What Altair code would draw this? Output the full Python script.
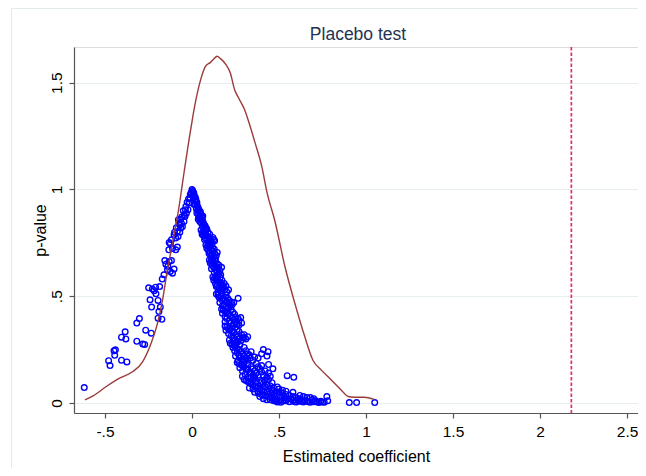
import altair as alt
import pandas as pd

# ---- data ----
# placebo estimates (coefficient, p-value)
coef = [
    -0.619, -0.479, -0.471, -0.448, -0.440, -0.444, -0.405, -0.374, -0.405, -0.384,
    -0.380, -0.317, -0.302, -0.317, -0.283, -0.272, -0.266, -0.234, -0.249, -0.228,
    -0.209, -0.186, -0.241, -0.232, -0.195, -0.207, -0.217, -0.195, -0.173, -0.190,
    -0.182, -0.171, -0.161, -0.141, -0.125, -0.112, -0.103, -0.156, -0.150, -0.139,
    -0.131, -0.118, -0.133, -0.124, -0.112, -0.093, -0.084, -0.131, -0.118, -0.103,
    -0.093, -0.084, -0.078, -0.070, -0.064, -0.055, -0.046, -0.040, -0.032, -0.023,
    -0.017, -0.011, -0.006, -0.060, -0.050, -0.035, -0.028, -0.020, -0.010, -0.075,
    -0.090, -0.100, -0.065, -0.045, -0.038, -0.080, -0.070, -0.060,
    0.000, 0.005, 0.010, 0.012, 0.018, 0.008, 0.022, 0.015, 0.028, 0.003,
    0.020, 0.030, 0.035, 0.025, 0.040, 0.045, 0.032, 0.050, 0.038, 0.055,
    0.040, 0.050, 0.060, 0.045, 0.065, 0.070, 0.055, 0.075, 0.060, 0.080, 0.085,
    0.060, 0.070, 0.080, 0.065, 0.090, 0.075, 0.100, 0.085, 0.110, 0.095, 0.120, 0.125, 0.130,
    0.080, 0.090, 0.100, 0.085, 0.110, 0.095, 0.120, 0.105, 0.130, 0.115, 0.140, 0.125, 0.135,
    0.100, 0.110, 0.120, 0.105, 0.130, 0.115, 0.140, 0.125, 0.150, 0.135, 0.160, 0.145, 0.155, 0.165,
    0.120, 0.130, 0.140, 0.125, 0.150, 0.160, 0.135, 0.170, 0.145, 0.180, 0.155, 0.175, 0.190, 0.165, 0.200,
    0.140, 0.150, 0.165, 0.155, 0.180, 0.170, 0.190, 0.200, 0.160, 0.210, 0.185, 0.220, 0.195, 0.230, 0.265,
    0.170, 0.180, 0.190, 0.200, 0.175, 0.210, 0.220, 0.190, 0.230, 0.200, 0.240, 0.215, 0.250, 0.225, 0.260, 0.270, 0.280,
    0.190, 0.200, 0.210, 0.220, 0.195, 0.230, 0.240, 0.210, 0.250, 0.225, 0.260, 0.240, 0.270, 0.250, 0.280, 0.290, 0.300, 0.310,
    0.220, 0.230, 0.240, 0.250, 0.235, 0.260, 0.270, 0.245, 0.280, 0.260, 0.290, 0.270, 0.300, 0.280, 0.310, 0.290, 0.320,
    0.330, 0.340, 0.360, 0.380, 0.400, 0.410, 0.437, 0.431,
    0.260, 0.270, 0.280, 0.290, 0.300, 0.275, 0.310, 0.320, 0.290, 0.330, 0.340, 0.305, 0.350, 0.360, 0.320,
    0.370, 0.380, 0.390, 0.400, 0.420, 0.440, 0.410, 0.430, 0.547, 0.585, 0.440, 0.465,
    0.300, 0.310, 0.320, 0.330, 0.340, 0.350, 0.360, 0.370, 0.380, 0.390, 0.400, 0.350, 0.370, 0.390,
    0.410, 0.430, 0.450, 0.470, 0.420, 0.440, 0.460, 0.490, 0.500,
    0.360, 0.380, 0.400, 0.420, 0.440, 0.460, 0.480, 0.410, 0.430, 0.450, 0.470, 0.490, 0.510, 0.530,
    0.550, 0.500, 0.520, 0.540, 0.560, 0.580, 0.600, 0.620, 0.640, 0.660, 0.700,
    0.450, 0.480, 0.500, 0.520, 0.540, 0.560, 0.580, 0.600, 0.620, 0.640, 0.660, 0.680, 0.700, 0.720,
    0.740, 0.760, 0.780, 0.775, 0.690, 0.904, 0.946, 1.050,
]
pval = [
    0.072, 0.198, 0.175, 0.244, 0.249, 0.223, 0.200, 0.192, 0.308, 0.333,
    0.300, 0.374, 0.395, 0.289, 0.276, 0.274, 0.341, 0.327, 0.539, 0.534,
    0.542, 0.545, 0.483, 0.449, 0.480, 0.511, 0.526, 0.397, 0.392, 0.428,
    0.449, 0.580, 0.600, 0.624, 0.616, 0.608, 0.627, 0.667, 0.650, 0.639,
    0.662, 0.667, 0.717, 0.746, 0.723, 0.717, 0.730, 0.751, 0.764, 0.788,
    0.772, 0.803, 0.858, 0.834, 0.819, 0.826, 0.850, 0.873, 0.889, 0.905,
    0.936, 0.960, 0.983, 0.870, 0.900, 0.920, 0.940, 0.955, 0.975, 0.840,
    0.820, 0.800, 0.860, 0.880, 0.905, 0.780, 0.800, 0.840,
    1.000, 0.990, 0.985, 0.975, 0.965, 0.970, 0.955, 0.950, 0.940, 0.995,
    0.930, 0.925, 0.915, 0.910, 0.905, 0.895, 0.900, 0.885, 0.880, 0.875,
    0.870, 0.860, 0.855, 0.850, 0.845, 0.835, 0.840, 0.830, 0.825, 0.820, 0.815,
    0.800, 0.795, 0.790, 0.785, 0.780, 0.775, 0.770, 0.765, 0.760, 0.755, 0.775, 0.765, 0.760,
    0.740, 0.735, 0.730, 0.725, 0.720, 0.715, 0.710, 0.705, 0.700, 0.695, 0.690, 0.685, 0.680,
    0.670, 0.665, 0.660, 0.655, 0.650, 0.645, 0.640, 0.635, 0.630, 0.625, 0.620, 0.615, 0.605, 0.600,
    0.590, 0.585, 0.580, 0.575, 0.570, 0.565, 0.560, 0.555, 0.550, 0.545, 0.540, 0.535, 0.530, 0.525, 0.520,
    0.510, 0.505, 0.500, 0.495, 0.490, 0.485, 0.480, 0.475, 0.470, 0.465, 0.460, 0.455, 0.450, 0.460, 0.490,
    0.440, 0.435, 0.430, 0.425, 0.420, 0.415, 0.410, 0.405, 0.400, 0.395, 0.390, 0.385, 0.380, 0.375, 0.370, 0.385, 0.400,
    0.360, 0.355, 0.350, 0.345, 0.340, 0.335, 0.330, 0.325, 0.320, 0.315, 0.310, 0.305, 0.300, 0.295, 0.290, 0.305, 0.320, 0.300,
    0.280, 0.275, 0.270, 0.265, 0.260, 0.255, 0.250, 0.245, 0.240, 0.235, 0.230, 0.225, 0.220, 0.215, 0.210, 0.205, 0.200,
    0.225, 0.240, 0.215, 0.210, 0.230, 0.250, 0.240, 0.220,
    0.190, 0.185, 0.180, 0.175, 0.170, 0.165, 0.160, 0.155, 0.150, 0.145, 0.140, 0.135, 0.130, 0.125, 0.120,
    0.185, 0.170, 0.160, 0.175, 0.150, 0.140, 0.130, 0.120, 0.128, 0.120, 0.180, 0.160,
    0.110, 0.105, 0.100, 0.095, 0.090, 0.085, 0.080, 0.075, 0.070, 0.065, 0.060, 0.110, 0.100, 0.095,
    0.090, 0.085, 0.080, 0.070, 0.105, 0.110, 0.095, 0.075, 0.065,
    0.050, 0.045, 0.040, 0.035, 0.030, 0.025, 0.020, 0.055, 0.050, 0.045, 0.040, 0.035, 0.030, 0.025,
    0.020, 0.050, 0.045, 0.040, 0.035, 0.030, 0.025, 0.020, 0.030, 0.025, 0.020,
    0.015, 0.010, 0.012, 0.008, 0.010, 0.006, 0.012, 0.005, 0.010, 0.004, 0.008, 0.003, 0.006, 0.004,
    0.008, 0.003, 0.010, 0.030, 0.015, 0.002, 0.002, 0.002,
]

# further estimates filling the dense right-hand band (coefficient, p-value)
extra_pts = [
    (0.008, 0.96), (0.020, 0.945), (0.012, 0.93), (-0.003, 0.985),
    (0.028, 0.89), (0.042, 0.87), (0.036, 0.86), (0.058, 0.865), (0.048, 0.895), (0.062, 0.875),
    (0.052, 0.81), (0.068, 0.805), (0.078, 0.81), (0.092, 0.80), (0.102, 0.79), (0.058, 0.79),
    (0.072, 0.765), (0.105, 0.75), (0.115, 0.745),
    (0.092, 0.745), (0.102, 0.742), (0.118, 0.728), (0.128, 0.72), (0.098, 0.70), (0.108, 0.688), (0.145, 0.705),
    (0.118, 0.672), (0.135, 0.668), (0.145, 0.652), (0.155, 0.645), (0.112, 0.628), (0.128, 0.61),
    (0.170, 0.635), (0.142, 0.598),
    (0.145, 0.592), (0.162, 0.588), (0.172, 0.575), (0.140, 0.545), (0.185, 0.56), (0.195, 0.548),
    (0.160, 0.532), (0.210, 0.53), (0.150, 0.52),
    (0.172, 0.512), (0.195, 0.505), (0.205, 0.49), (0.215, 0.48), (0.175, 0.455), (0.228, 0.472),
    (0.240, 0.47), (0.208, 0.448),
    (0.205, 0.445), (0.225, 0.438), (0.235, 0.425), (0.245, 0.415), (0.250, 0.40), (0.190, 0.38),
    (0.265, 0.395), (0.285, 0.375), (0.240, 0.37), (0.270, 0.365),
    (0.235, 0.36), (0.250, 0.355), (0.260, 0.345), (0.270, 0.335), (0.285, 0.32), (0.215, 0.295),
    (0.300, 0.305), (0.235, 0.29), (0.320, 0.31), (0.260, 0.285),
    (0.255, 0.28), (0.275, 0.272), (0.300, 0.26), (0.310, 0.245), (0.320, 0.23), (0.250, 0.22),
    (0.335, 0.21), (0.350, 0.20), (0.300, 0.20), (0.265, 0.20),
    (0.300, 0.19), (0.320, 0.18), (0.340, 0.17), (0.350, 0.16), (0.360, 0.15), (0.370, 0.14),
    (0.380, 0.13), (0.290, 0.125), (0.400, 0.145), (0.450, 0.125), (0.340, 0.12), (0.360, 0.115),
    (0.330, 0.07), (0.350, 0.065), (0.380, 0.055), (0.400, 0.10), (0.420, 0.075), (0.440, 0.065),
    (0.460, 0.06), (0.480, 0.055), (0.520, 0.06), (0.540, 0.055), (0.580, 0.05),
    (0.390, 0.03), (0.410, 0.02), (0.430, 0.015), (0.470, 0.01), (0.490, 0.005), (0.510, 0.003),
    (0.530, 0.015), (0.570, 0.018), (0.590, 0.006), (0.610, 0.015), (0.630, 0.007), (0.650, 0.012),
    (0.670, 0.006), (0.710, 0.01), (0.730, 0.002), (0.750, 0.005), (0.620, 0.035), (0.680, 0.025),
]

# kernel density of the placebo coefficients
dens_x = [
    -0.615, -0.568, -0.492, -0.416, -0.340, -0.283, -0.235, -0.198, -0.169, -0.141,
    -0.108, -0.077, -0.046, -0.017, 0.002, 0.021, 0.050, 0.078, 0.106, 0.125,
    0.144, 0.163, 0.195, 0.220, 0.245, 0.268, 0.302, 0.325, 0.363, 0.401,
    0.430, 0.477, 0.534, 0.591, 0.648, 0.695, 0.742, 0.800, 0.857, 0.898,
    0.933, 0.990, 1.047,
]
dens_y = [
    0.014, 0.033, 0.077, 0.116, 0.147, 0.194, 0.280, 0.374, 0.483, 0.624,
    0.765, 0.905, 1.077, 1.233, 1.327, 1.413, 1.514, 1.577, 1.595, 1.611,
    1.624, 1.613, 1.585, 1.546, 1.467, 1.428, 1.374, 1.319, 1.217, 1.108,
    0.990, 0.850, 0.639, 0.467, 0.311, 0.200, 0.155, 0.108, 0.061, 0.030,
    0.027, 0.027, 0.017,
]

# true estimated coefficient (vertical reference line)
true_coef = [2.18]

x_ticks = [-0.5, 0, 0.5, 1, 1.5, 2, 2.5]
y_ticks = [0, 0.5, 1, 1.5]
chart_title = "Placebo test"

# ---- chart ----
all_coef = coef + [p[0] for p in extra_pts]
all_pval = pval + [p[1] for p in extra_pts]
pts = pd.DataFrame({"coef": all_coef, "pval": all_pval})
dens = pd.DataFrame({"coef": dens_x, "dens": dens_y})
vline = pd.DataFrame({"coef": true_coef})
one_row = pd.DataFrame({"label": [chart_title]})

FONT = "Liberation Sans"
xscale = alt.Scale(domain=[-0.678, 2.563], nice=False, zero=False)
yscale = alt.Scale(domain=[-0.047, 1.667], nice=False, zero=False)

lab_x = "datum.value == -0.5 ? '-.5' : datum.value == 0.5 ? '.5' : format(datum.value, '~g')"
lab_y = "datum.value == 0.5 ? '.5' : format(datum.value, '~g')"

xaxis = alt.Axis(
    values=x_ticks, labelExpr=lab_x, title="Estimated coefficient", grid=False,
    tickSize=5, labelPadding=6, labelFontSize=15.5, labelFont=FONT, labelColor="#000000",
    titleFont=FONT, titleFontSize=16, titleFontWeight="normal", titleColor="#000000",
    titleY=43, titleBaseline="middle", domainColor="#555555", tickColor="#555555",
    domainWidth=1.2, tickWidth=1.2, labelBaseline="top",
)
yaxis = alt.Axis(
    values=y_ticks, labelExpr=lab_y, title="p-value", grid=True, gridColor="#e6eef0",
    gridWidth=1.2, tickSize=5, labelPadding=5, labelFontSize=15.5, labelFont=FONT,
    labelColor="#000000", labelAngle=270, labelAlign="center", labelBaseline="bottom",
    titleFont=FONT, titleFontSize=16, titleFontWeight="normal", titleColor="#000000",
    titleAngle=270, titleX=-34, titleY=183, titleAlign="center", titleBaseline="middle",
    domainColor="#555555", tickColor="#555555", domainWidth=1.2, tickWidth=1.2,
)

frame = alt.Chart(one_row).mark_rect(
    fill=None, stroke="#e2eaec", strokeWidth=1
).encode(
    x=alt.value(-62.5), x2=alt.value(700), y=alt.value(-38.5), y2=alt.value(500)
)

title = alt.Chart(one_row).mark_text(
    font=FONT, fontSize=17.5, color="#1f3352", align="center", baseline="alphabetic"
).encode(
    text="label:N", x=alt.value(284), y=alt.value(-7.5)
)

scatter = alt.Chart(pts).mark_point(
    shape="circle", filled=False, color="#0000ff", size=32, strokeWidth=1.35, opacity=1
).encode(
    x=alt.X("coef:Q", scale=xscale, axis=xaxis),
    y=alt.Y("pval:Q", scale=yscale, axis=yaxis),
)

density = alt.Chart(dens).mark_line(
    color="#9b3b3b", strokeWidth=1.4, interpolate="monotone"
).encode(
    x=alt.X("coef:Q", scale=xscale),
    y=alt.Y("dens:Q", scale=yscale),
)

rule = alt.Chart(vline).mark_rule(
    color="#e0305f", strokeWidth=1.7, strokeDash=[3.5, 2]
).encode(
    x=alt.X("coef:Q", scale=xscale),
)

chart = alt.layer(frame, title, scatter, density, rule).properties(
    width=564,
    height=366,
    autosize=alt.AutoSizeParams(type="none"),
    padding={"left": 66, "top": 39, "right": 0, "bottom": 55},
).configure_view(stroke=None).configure(background="#ffffff")

chart.save("out.html", embed_options={"renderer": "svg", "actions": False})
